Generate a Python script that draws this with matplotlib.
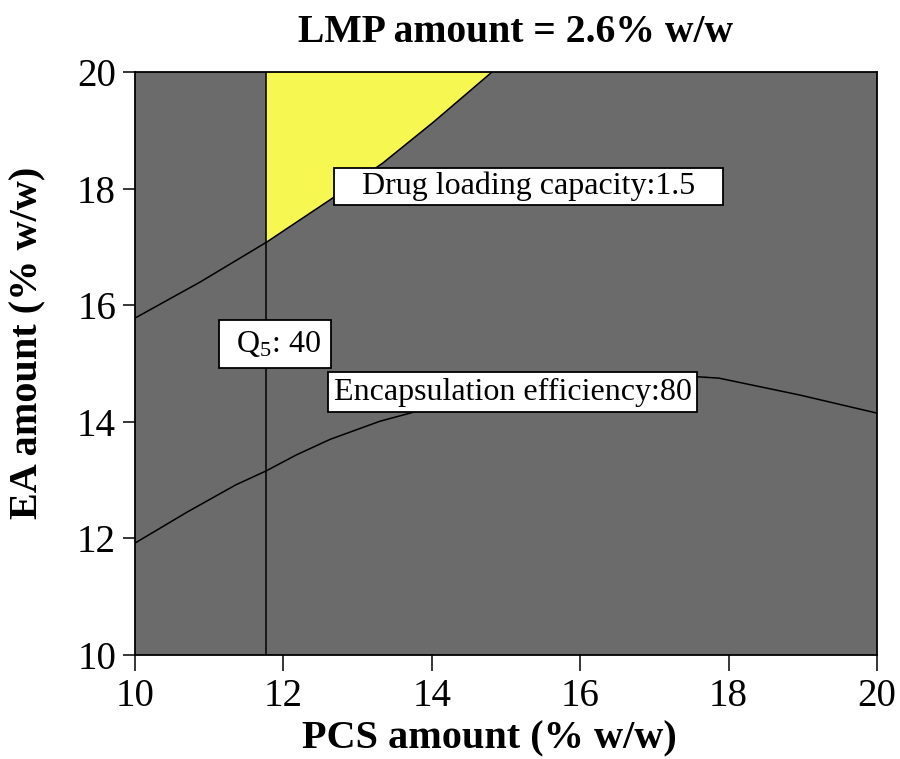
import matplotlib
matplotlib.use("Agg")
import matplotlib.pyplot as plt

# Data
pcs_ticks = [10, 12, 14, 16, 18, 20]
ea_ticks = [10, 12, 14, 16, 18, 20]
q5_x = 11.77  # Q5: 40 contour (vertical)

dlc_x = [10.0, 10.88, 11.77, 12.63, 13.34, 14.02, 14.81]
dlc_y = [15.78, 16.40, 17.08, 17.81, 18.44, 19.14, 20.0]

ee_x = [10.0, 10.7, 11.36, 11.77, 12.17, 12.63, 13.30, 14.0, 15.0, 16.0, 17.0, 17.5, 17.87, 18.96, 20.0]
ee_y = [11.92, 12.45, 12.92, 13.16, 13.43, 13.70, 14.01, 14.25, 14.50, 14.68, 14.77, 14.78, 14.75, 14.46, 14.15]

labels = ["   Drug loading capacity:1.5   ", " Q$_5$: 40 ", "Encapsulation efficiency:80"]
label_xy = [(15.30, 18.04), (11.89, 15.33), (15.09, 14.51)]
label_pad = [0.12, 0.28, 0.18]

plt.rcParams['font.family'] = ['Liberation Serif', 'DejaVu Serif']
plt.rcParams['mathtext.fontset'] = 'custom'
plt.rcParams['mathtext.rm'] = 'Liberation Serif'
plt.rcParams['mathtext.it'] = 'Liberation Serif:italic'
plt.rcParams['mathtext.bf'] = 'Liberation Serif:bold'

fig = plt.figure(figsize=(9, 7.59), dpi=100)
ax = fig.add_axes([0.15, 0.137, 0.8244, 0.768])
ax.set_facecolor('#6b6b6b')

# yellow feasible region: right of Q5 line, above drug-loading contour
fx = [q5_x] + [x for x in dlc_x if x > q5_x] + [q5_x]
fy = [dlc_y[2]] + [y for x, y in zip(dlc_x, dlc_y) if x > q5_x] + [20.0]
ax.fill(fx, fy, color='#f7f752', zorder=1, linewidth=0)

ax.plot(dlc_x, dlc_y, color='black', lw=1.1, zorder=2)
ax.plot(ee_x, ee_y, color='black', lw=1.1, zorder=2)
ax.axvline(q5_x, color='black', lw=1.1, zorder=2)

for t, (x, y), p in zip(labels, label_xy, label_pad):
    ax.text(x, y, t, ha='center', va='center', fontsize=23, zorder=5,
            bbox=dict(boxstyle=f'square,pad={p}', fc='white', ec='black', lw=1.3))

ax.set_xlim(10, 20)
ax.set_ylim(10, 20)
ax.set_xticks(pcs_ticks)
ax.set_yticks(ea_ticks)
ax.tick_params(axis='x', direction='out', length=11.5, width=1.1, labelsize=28, pad=5)
ax.tick_params(axis='y', direction='out', length=8.6, width=1.1, labelsize=28, pad=5)
for s in ax.spines.values():
    s.set_linewidth(1.3)

ax.set_xlabel('PCS amount (% w/w)', fontsize=29, fontweight='bold')
ax.xaxis.set_label_coords(0.478, -0.113)
ax.set_ylabel('EA amount (% w/w)', fontsize=29, fontweight='bold')
ax.yaxis.set_label_coords(-0.119, 0.535)
ax.text(0.513, 1.068, 'LMP amount = 2.6% w/w', transform=ax.transAxes,
        ha='center', va='center', fontsize=28.5, fontweight='bold')

fig.savefig('out.png', dpi=100)
